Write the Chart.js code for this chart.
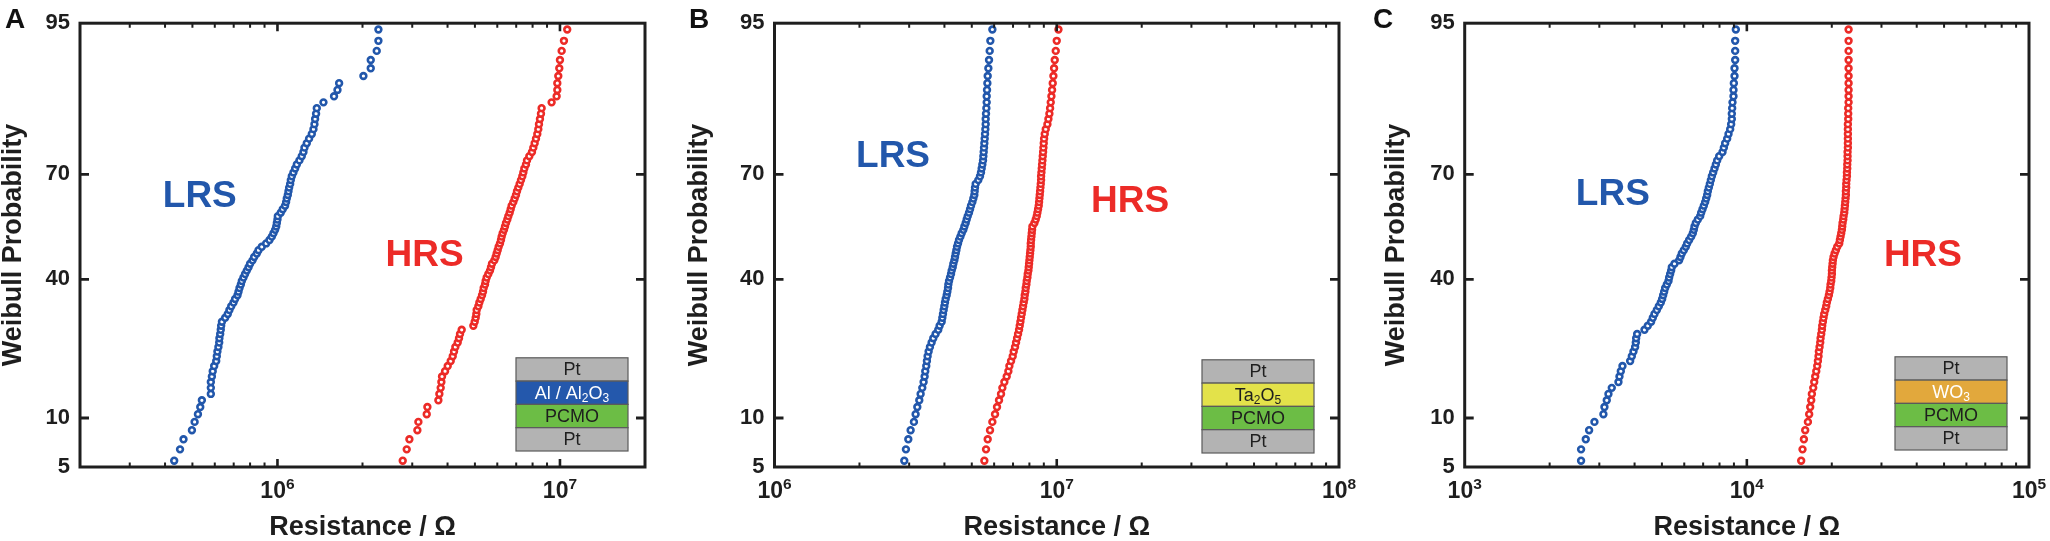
<!DOCTYPE html>
<html>
<head>
<meta charset="utf-8">
<title>Resistance distributions</title>
<script src="https://cdn.jsdelivr.net/npm/chart.js@4.4.1/dist/chart.umd.min.js"></script>
<style>
  html, body { margin: 0; padding: 0; background: #fff; }
  #wrap { position: relative; width: 2050px; height: 541px; overflow: hidden; }
  .panel { position: absolute; top: 0; height: 541px; }
</style>
</head>
<body>
<div id="wrap">
  <div class="panel" style="left:0;width:683px"><canvas id="chartA"></canvas></div>
  <div class="panel" style="left:683px;width:683px"><canvas id="chartB"></canvas></div>
  <div class="panel" style="left:1366px;width:684px"><canvas id="chartC"></canvas></div>
</div>
<script>
// Cumulative probability (%) of each plotted point, bottom to top (90 points per series)
var probPct = [
  5.5, 6.5, 7.5, 8.5, 9.5, 10.5, 11.5, 12.5, 13.5, 14.5,
  15.5, 16.5, 17.5, 18.5, 19.5, 20.5, 21.5, 22.5, 23.5, 24.5,
  25.5, 26.5, 27.5, 28.5, 29.5, 30.5, 31.5, 32.5, 33.5, 34.5,
  35.5, 36.5, 37.5, 38.5, 39.5, 40.5, 41.5, 42.5, 43.5, 44.5,
  45.5, 46.5, 47.5, 48.5, 49.5, 50.5, 51.5, 52.5, 53.5, 54.5,
  55.5, 56.5, 57.5, 58.5, 59.5, 60.5, 61.5, 62.5, 63.5, 64.5,
  65.5, 66.5, 67.5, 68.5, 69.5, 70.5, 71.5, 72.5, 73.5, 74.5,
  75.5, 76.5, 77.5, 78.5, 79.5, 80.5, 81.5, 82.5, 83.5, 84.5,
  85.5, 86.5, 87.5, 88.5, 89.5, 90.5, 91.5, 92.5, 93.5, 94.5
];

// Panel A: Pt / Al / Al2O3 / PCMO / Pt, resistance in MOhm
var lrsA = [
  0.431, 0.452, 0.465, 0.498, 0.509, 0.523, 0.533, 0.540, 0.581, 0.581,
  0.581, 0.586, 0.590, 0.597, 0.607, 0.610, 0.613, 0.618, 0.622, 0.623,
  0.627, 0.630, 0.632, 0.636, 0.653, 0.667, 0.676, 0.686, 0.699, 0.708,
  0.722, 0.728, 0.734, 0.742, 0.748, 0.758, 0.768, 0.779, 0.790, 0.800,
  0.816, 0.827, 0.845, 0.857, 0.880, 0.912, 0.937, 0.955, 0.968, 0.981,
  0.990, 0.995, 1.000, 1.003, 1.027, 1.044, 1.064, 1.073, 1.079, 1.088,
  1.094, 1.100, 1.109, 1.115, 1.124, 1.139, 1.155, 1.171, 1.196, 1.219,
  1.236, 1.246, 1.270, 1.294, 1.323, 1.341, 1.352, 1.359, 1.370, 1.378,
  1.455, 1.586, 1.631, 1.653, 2.015, 2.139, 2.139, 2.246, 2.277, 2.277
];
var hrsA = [
  2.776, 2.868, 2.931, 3.128, 3.154, 3.376, 3.394, 3.712, 3.742, 3.783,
  3.804, 3.824, 3.920, 4.006, 4.105, 4.173, 4.217, 4.263, 4.345, 4.392,
  4.428, 4.489, 4.937, 4.991, 5.032, 5.058, 5.073, 5.142, 5.184, 5.241,
  5.298, 5.341, 5.370, 5.429, 5.457, 5.503, 5.578, 5.654, 5.700, 5.746,
  5.857, 5.921, 5.969, 6.019, 6.067, 6.133, 6.184, 6.217, 6.269, 6.337,
  6.389, 6.442, 6.512, 6.565, 6.637, 6.692, 6.745, 6.838, 6.912, 6.988,
  7.045, 7.122, 7.200, 7.278, 7.358, 7.419, 7.479, 7.581, 7.644, 7.790,
  7.961, 8.048, 8.136, 8.225, 8.314, 8.382, 8.428, 8.496, 8.566, 8.612,
  9.343, 9.732, 9.786, 9.786, 9.865, 9.945, 10.00, 10.14, 10.33, 10.61
];

// Panel B: Pt / Ta2O5 / PCMO / Pt, resistance in MOhm
var lrsB = [
  2.883, 2.922, 2.979, 3.036, 3.119, 3.162, 3.206, 3.258, 3.294, 3.339,
  3.375, 3.403, 3.421, 3.449, 3.468, 3.487, 3.516, 3.554, 3.603, 3.652,
  3.722, 3.804, 3.846, 3.911, 3.932, 3.953, 3.975, 3.997, 4.018, 4.041,
  4.074, 4.096, 4.119, 4.130, 4.153, 4.187, 4.221, 4.244, 4.279, 4.302,
  4.337, 4.361, 4.385, 4.409, 4.433, 4.469, 4.505, 4.555, 4.604, 4.667,
  4.706, 4.757, 4.796, 4.836, 4.888, 4.929, 4.969, 5.023, 5.064, 5.105,
  5.119, 5.133, 5.161, 5.273, 5.346, 5.390, 5.420, 5.450, 5.480, 5.495,
  5.510, 5.525, 5.540, 5.555, 5.571, 5.586, 5.601, 5.601, 5.616, 5.632,
  5.647, 5.647, 5.662, 5.678, 5.693, 5.724, 5.755, 5.787, 5.818, 5.914
];
var hrsB = [
  5.540, 5.616, 5.693, 5.802, 5.914, 6.044, 6.143, 6.244, 6.347, 6.417,
  6.522, 6.648, 6.739, 6.795, 6.888, 6.982, 7.039, 7.116, 7.175, 7.234,
  7.293, 7.353, 7.393, 7.434, 7.474, 7.515, 7.556, 7.597, 7.638, 7.680,
  7.701, 7.743, 7.764, 7.806, 7.828, 7.871, 7.892, 7.936, 7.957, 7.979,
  8.000, 8.022, 8.044, 8.066, 8.089, 8.089, 8.111, 8.133, 8.155, 8.177,
  8.199, 8.334, 8.424, 8.493, 8.539, 8.586, 8.633, 8.657, 8.681, 8.705,
  8.729, 8.753, 8.777, 8.800, 8.800, 8.825, 8.849, 8.873, 8.897, 8.921,
  8.946, 8.970, 8.994, 9.019, 9.068, 9.141, 9.267, 9.342, 9.418, 9.471,
  9.522, 9.574, 9.626, 9.678, 9.731, 9.784, 9.838, 9.919, 10.00, 10.14
];

// Panel C: Pt / WO3 / PCMO / Pt, resistance in kOhm
var lrsC = [
  2.585, 2.585, 2.686, 2.760, 2.883, 3.102, 3.128, 3.188, 3.232, 3.321,
  3.507, 3.536, 3.575, 3.624, 3.858, 3.911, 3.964, 4.018, 4.041, 4.052,
  4.085, 4.337, 4.456, 4.578, 4.642, 4.706, 4.797, 4.875, 4.955, 5.010,
  5.051, 5.092, 5.134, 5.204, 5.276, 5.304, 5.347, 5.391, 5.420, 5.540,
  5.754, 5.817, 5.881, 5.978, 6.077, 6.143, 6.244, 6.347, 6.434, 6.487,
  6.522, 6.594, 6.703, 6.832, 6.888, 6.963, 7.039, 7.116, 7.175, 7.234,
  7.273, 7.333, 7.393, 7.454, 7.515, 7.597, 7.680, 7.764, 7.849, 7.978,
  8.199, 8.288, 8.378, 8.516, 8.610, 8.727, 8.798, 8.846, 8.846, 8.871,
  8.895, 8.968, 8.968, 8.993, 9.042, 9.042, 9.092, 9.092, 9.092, 9.141
];
var hrsC = [
  15.58, 15.75, 15.93, 16.10, 16.46, 16.63, 16.77, 16.91, 17.00, 17.19,
  17.33, 17.47, 17.62, 17.76, 17.86, 17.95, 18.00, 18.10, 18.20, 18.25,
  18.35, 18.45, 18.50, 18.60, 18.70, 18.80, 18.96, 19.11, 19.21, 19.37,
  19.53, 19.64, 19.75, 19.80, 19.91, 19.96, 20.02, 20.02, 20.07, 20.13,
  20.18, 20.29, 20.46, 20.68, 20.91, 21.25, 21.37, 21.48, 21.60, 21.72,
  21.78, 21.84, 21.96, 22.02, 22.14, 22.20, 22.26, 22.32, 22.38, 22.44,
  22.44, 22.50, 22.50, 22.56, 22.63, 22.63, 22.69, 22.69, 22.75, 22.75,
  22.75, 22.81, 22.81, 22.81, 22.81, 22.81, 22.81, 22.87, 22.87, 22.87,
  22.94, 22.94, 22.94, 22.94, 22.94, 22.94, 22.94, 22.94, 22.94, 22.94
];

// Probability axis tick labels (%)
var yTickLabels = [5, 10, 40, 70, 95];
var seriesNames = ['LRS', 'HRS'];
var panelLetters = ['A', 'B', 'C'];

var FONT = "'Liberation Sans', Arial, Helvetica, sans-serif";
var INK = '#1e1e1e';
var BLUE = '#2257ab';
var RED = '#ec2b27';
var GRAY = '#b3b3b3';

Chart.defaults.font.family = FONT;
Chart.defaults.color = INK;

// inverse normal CDF (Acklam), used to place the probability axis
function probit(p) {
  var a = [-39.69683028665376, 220.9460984245205, -275.9285104469687, 138.3577518672690, -30.66479806614716, 2.506628277459239];
  var b = [-54.47609879822406, 161.5858368580409, -155.6989798598866, 66.80131188771972, -13.28068155288572];
  var c = [-0.007784894002430293, -0.3223964580411365, -2.400758277161838, -2.549732539343734, 4.374664141464968, 2.938163982698783];
  var d = [0.007784695709041462, 0.3224671290700398, 2.445134137142996, 3.754408661907416];
  var q, r;
  if (p < 0.02425) {
    q = Math.sqrt(-2 * Math.log(p));
    return (((((c[0]*q+c[1])*q+c[2])*q+c[3])*q+c[4])*q+c[5]) / ((((d[0]*q+d[1])*q+d[2])*q+d[3])*q+1);
  }
  if (p > 1 - 0.02425) {
    q = Math.sqrt(-2 * Math.log(1 - p));
    return -(((((c[0]*q+c[1])*q+c[2])*q+c[3])*q+c[4])*q+c[5]) / ((((d[0]*q+d[1])*q+d[2])*q+d[3])*q+1);
  }
  q = p - 0.5; r = q * q;
  return (((((a[0]*r+a[1])*r+a[2])*r+a[3])*r+a[4])*r+a[5])*q / (((((b[0]*r+b[1])*r+b[2])*r+b[3])*r+b[4])*r+1);
}

function isDecade(v) {
  var l = Math.log10(v);
  return Math.abs(l - Math.round(l)) < 1e-9;
}

function toPoints(values, unit) {
  return values.map(function(v, i) {
    return { x: v * unit, y: probit(probPct[i] / 100) };
  });
}

// text with subscripts: parts = [[text, isSub], ...]
function drawRich(ctx, parts, cx, cy, size, color) {
  var big = size + 'px ' + FONT, small = Math.round(size * 0.66) + 'px ' + FONT;
  var total = 0;
  parts.forEach(function(p) { ctx.font = p[1] ? small : big; total += ctx.measureText(p[0]).width; });
  var x = cx - total / 2;
  ctx.fillStyle = color;
  ctx.textBaseline = 'middle';
  ctx.textAlign = 'left';
  parts.forEach(function(p) {
    ctx.font = p[1] ? small : big;
    ctx.fillText(p[0], x, p[1] ? cy + size * 0.3 : cy);
    x += ctx.measureText(p[0]).width;
  });
}

// box frame with inward ticks on all four sides, and 10^n labels under the decades
var frameTicks = {
  id: 'frameTicks',
  afterDraw: function(chart) {
    var ctx = chart.ctx, a = chart.chartArea, x = chart.scales.x, y = chart.scales.y;
    ctx.save();
    ctx.strokeStyle = INK;
    ctx.lineCap = 'butt';
    x.ticks.forEach(function(t) {
      var px = x.getPixelForValue(t.value);
      if (px < a.left + 2 || px > a.right - 2) return;
      var major = isDecade(t.value);
      var len = major ? 8 : 4.5;
      ctx.lineWidth = major ? 2.6 : 2;
      ctx.beginPath();
      ctx.moveTo(px, a.bottom); ctx.lineTo(px, a.bottom - len);
      ctx.moveTo(px, a.top); ctx.lineTo(px, a.top + len);
      ctx.stroke();
    });
    ctx.lineWidth = 2.8;
    y.ticks.forEach(function(t) {
      var py = y.getPixelForValue(t.value);
      if (py < a.top + 2 || py > a.bottom - 2) return;
      ctx.beginPath();
      ctx.moveTo(a.left, py); ctx.lineTo(a.left + 9, py);
      ctx.moveTo(a.right, py); ctx.lineTo(a.right - 9, py);
      ctx.stroke();
    });
    ctx.lineWidth = 3;
    ctx.strokeRect(a.left, a.top, a.right - a.left, a.bottom - a.top);

    // decade labels: "10" with a raised exponent
    ctx.fillStyle = INK;
    ctx.textBaseline = 'alphabetic';
    ctx.textAlign = 'left';
    var baseFont = 'bold 23px ' + FONT, expFont = 'bold 15.5px ' + FONT;
    x.ticks.forEach(function(t) {
      if (!isDecade(t.value)) return;
      var px = x.getPixelForValue(t.value);
      var exp = String(Math.round(Math.log10(t.value)));
      ctx.font = baseFont;
      var wb = ctx.measureText('10').width;
      ctx.font = expFont;
      var we = ctx.measureText(exp).width;
      var left = px - (wb + we) / 2;
      ctx.font = baseFont;
      ctx.fillText('10', left, a.bottom + 31);
      ctx.font = expFont;
      ctx.fillText(exp, left + wb, a.bottom + 22);
    });
    ctx.restore();
  }
};

// panel letter, state labels and the layer stack sketch
function makeDecor(cfg) {
  return {
    id: 'decor' + cfg.letter,
    afterDraw: function(chart) {
      var ctx = chart.ctx, a = chart.chartArea, x = chart.scales.x, y = chart.scales.y;
      ctx.save();
      ctx.fillStyle = '#111';
      ctx.font = 'bold 28px ' + FONT;
      ctx.textAlign = 'left';
      ctx.textBaseline = 'alphabetic';
      ctx.fillText(cfg.letter, cfg.letterX, 28);

      ctx.font = 'bold 37px ' + FONT;
      ctx.textAlign = 'center';
      ctx.textBaseline = 'middle';
      ctx.fillStyle = BLUE;
      ctx.fillText(seriesNames[0], x.getPixelForValue(cfg.lrsAt[0]), y.getPixelForValue(probit(cfg.lrsAt[1] / 100)));
      ctx.fillStyle = RED;
      ctx.fillText(seriesNames[1], x.getPixelForValue(cfg.hrsAt[0]), y.getPixelForValue(probit(cfg.hrsAt[1] / 100)));

      var s = cfg.stack, w = 112, h = 23.3;
      var left = a.right - s.gapR - w, top = a.bottom - s.gapB - h * s.layers.length;
      s.layers.forEach(function(L, i) {
        var ty = top + i * h;
        ctx.fillStyle = L.fill;
        ctx.fillRect(left, ty, w, h);
        ctx.strokeStyle = '#5a5a5a';
        ctx.lineWidth = 1.2;
        ctx.strokeRect(left, ty, w, h);
        drawRich(ctx, L.text, left + w / 2, ty + h / 2 + 1, 18, L.color);
      });
      ctx.restore();
    }
  };
}

function makePanel(cfg) {
  new Chart(document.getElementById(cfg.id), {
    type: 'scatter',
    data: {
      datasets: [
        { label: seriesNames[0], data: toPoints(cfg.lrs, cfg.unit), borderColor: BLUE, backgroundColor: '#fff',
          pointBackgroundColor: '#fff', pointBorderColor: BLUE, pointRadius: 2.9, pointBorderWidth: 2.6 },
        { label: seriesNames[1], data: toPoints(cfg.hrs, cfg.unit), borderColor: RED, backgroundColor: '#fff',
          pointBackgroundColor: '#fff', pointBorderColor: RED, pointRadius: 2.9, pointBorderWidth: 2.6 }
      ]
    },
    options: {
      responsive: true,
      maintainAspectRatio: false,
      animation: false,
      events: [],
      layout: { autoPadding: false, padding: { left: cfg.padLeft, right: cfg.padRight, top: 13.5, bottom: 0 } },
      plugins: { legend: { display: false }, tooltip: { enabled: false } },
      scales: {
        x: {
          type: 'logarithmic',
          min: cfg.xMin,
          max: cfg.xMax,
          grid: { display: false, drawTicks: false },
          border: { display: false },
          afterBuildTicks: function(scale) {
            var ticks = [];
            var k0 = Math.floor(Math.log10(cfg.xMin)), k1 = Math.ceil(Math.log10(cfg.xMax));
            for (var k = k0; k <= k1; k++) {
              for (var m = 1; m <= 9; m++) {
                var v = m * Math.pow(10, k);
                if (v >= cfg.xMin * 0.999 && v <= cfg.xMax * 1.001) ticks.push({ value: v });
              }
            }
            scale.ticks = ticks;
          },
          // decade labels are drawn with a raised exponent by the frameTicks plugin
          ticks: { display: false, autoSkip: false },
          title: { display: true, text: 'Resistance / \u03a9', color: INK, padding: 0,
                   font: { size: 27, weight: 'bold', lineHeight: 1 } },
          afterFit: function(scale) { scale.height = 74; }
        },
        y: {
          type: 'linear',
          min: probit(0.05),
          max: probit(0.95),
          grid: { display: false, drawTicks: false },
          border: { display: false },
          afterBuildTicks: function(scale) {
            scale.ticks = yTickLabels.map(function(p) { return { value: probit(p / 100) }; });
          },
          ticks: {
            autoSkip: false,
            padding: 10,
            color: INK,
            font: { size: 22, weight: 'bold' },
            callback: function(v, i) { return String(yTickLabels[i]); }
          },
          title: { display: true, text: 'Weibull Probability', color: INK, padding: 0,
                   font: { size: 27, weight: 'bold', lineHeight: 1 } },
          afterFit: function(scale) { scale.width = cfg.yWidth; }
        }
      }
    },
    plugins: [frameTicks, makeDecor(cfg)]
  });
}

function layer(text, fill, color) { return { text: text, fill: fill, color: color || '#1e1e1e' }; }

makePanel({
  id: 'chartA', letter: panelLetters[0], letterX: 5,
  xMin: 2e5, xMax: 2e7, unit: 1e6, lrs: lrsA, hrs: hrsA,
  padLeft: 0, yWidth: 80, padRight: 38,
  lrsAt: [5.31e5, 63.9], hrsAt: [3.32e6, 46.9],
  stack: { gapR: 17, gapB: 16, layers: [
    layer([['Pt']], GRAY),
    layer([['Al / Al'], ['2', 1], ['O'], ['3', 1]], '#2458ac', '#fff'),
    layer([['PCMO']], '#6cbd45'),
    layer([['Pt']], GRAY)
  ] }
});

makePanel({
  id: 'chartB', letter: panelLetters[1], letterX: 6,
  xMin: 1e6, xMax: 1e8, unit: 1e6, lrs: lrsB, hrs: hrsB,
  padLeft: 3.5, yWidth: 88, padRight: 27,
  lrsAt: [2.63e6, 74.4], hrsAt: [1.82e7, 62.6],
  stack: { gapR: 25, gapB: 14, layers: [
    layer([['Pt']], GRAY),
    layer([['Ta'], ['2', 1], ['O'], ['5', 1]], '#e3e24a'),
    layer([['PCMO']], '#6cbd45'),
    layer([['Pt']], GRAY)
  ] }
});

makePanel({
  id: 'chartC', letter: panelLetters[2], letterX: 7,
  xMin: 1e3, xMax: 1e5, unit: 1e3, lrs: lrsC, hrs: hrsC,
  padLeft: 17.5, yWidth: 81.2, padRight: 21,
  lrsAt: [3349, 64.5], hrsAt: [42090, 46.9],
  stack: { gapR: 22, gapB: 17, layers: [
    layer([['Pt']], GRAY),
    layer([['WO'], ['3', 1]], '#e2a83c', '#fff'),
    layer([['PCMO']], '#6cbd45'),
    layer([['Pt']], GRAY)
  ] }
});
</script>
</body>
</html>
